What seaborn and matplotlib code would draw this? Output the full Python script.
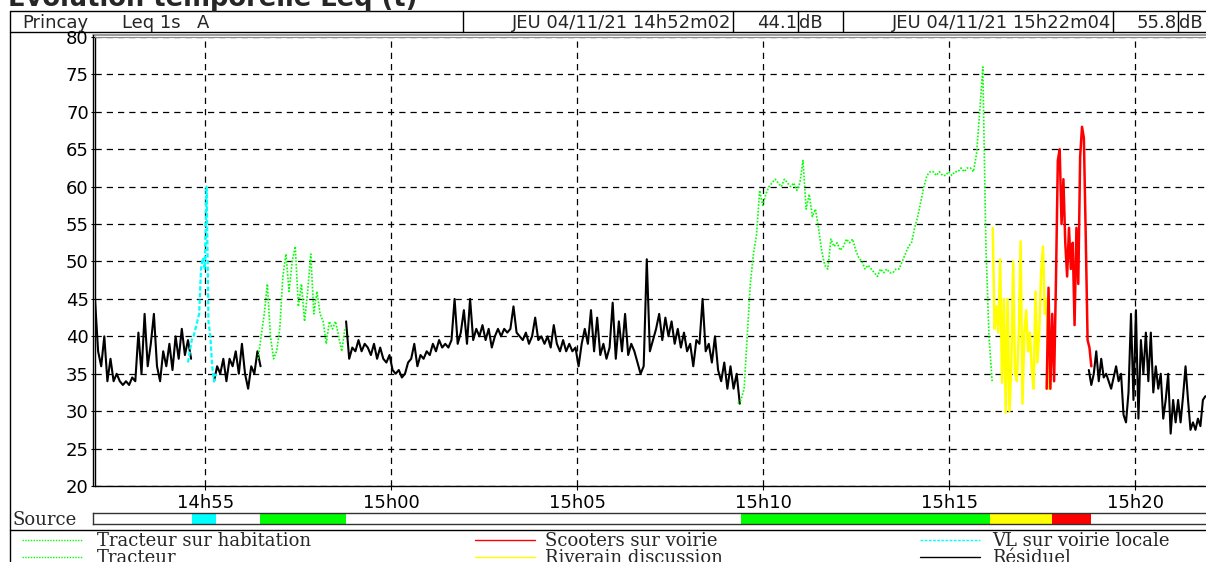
import numpy as np
import pandas as pd
import matplotlib.pyplot as plt
import seaborn as sns
from matplotlib.lines import Line2D

sns.set_style("white")
plt.rcParams["font.family"] = ["DejaVu Sans"]

# ---------------------------------------------------------
# Data: Leq 1s (A), Princay, JEU 04/11/21
# each run of one source: start time, step (s), dB values
# ---------------------------------------------------------
residuel_a = [45, 38, 36, 40, 34, 37, 34, 35, 34, 33.5, 34, 33.5, 34.5, 34, 40.5, 35,
              43, 36, 39, 43, 36, 34, 38, 36, 39, 35.5, 40, 37, 41, 37.5, 39.5, 37]
vl_voirie = [36.5, 38, 39.5, 40, 41, 42, 43, 49, 50.5, 49, 60, 42, 40, 36, 34, 35]
residuel_b = [34, 36, 35, 37, 34, 37, 36, 38, 35, 39, 35, 33, 36, 35, 38, 36]
tracteur = [37, 40, 43, 47, 40, 37, 38, 41, 48, 51, 46, 50, 52, 44, 47, 42, 46, 51,
            43, 46, 43, 42, 39, 42, 41, 42, 40, 38, 41]
residuel_c = [42, 37, 38.5, 38, 39.5, 38, 39, 38.5, 37.5, 39, 37, 38.5, 37, 36.5, 37.5,
              35.5, 35, 35.5, 34.5, 35, 36.5, 37, 39, 36, 37.5, 37, 38, 37.5, 39, 38,
              39.5, 38.5, 39, 38.5, 39.5, 45, 39, 40.5, 43.5, 39, 45, 39.5, 41, 40,
              41.5, 39.5, 41, 38.5, 40, 41, 40, 41, 40.5, 41, 44, 40.5, 40, 39.5, 40.5,
              39, 40, 42.5, 39.5, 40, 39, 40, 38.5, 41.5, 39, 38, 39.5, 38, 39, 38,
              38.5, 36, 39, 41, 39, 43.5, 38, 42.5, 37.5, 39, 37, 38.5, 44.5, 37, 42,
              38, 43, 37.5, 39, 38, 36.5, 35, 36, 50.3, 38, 39.5, 41, 43, 39.5, 42.5,
              40, 42, 39, 41, 38.5, 40.5, 38, 39, 36, 39.5, 39, 45, 38, 39, 36.5, 40,
              35.5, 34, 36.5, 33, 36, 33, 35, 31]
tracteur_hab = [31, 31.5, 33, 40, 47, 51, 53.5, 59.5, 57.5, 59, 60, 60.5, 61, 60.5, 60,
                61, 60.5, 60, 60.5, 59.5, 60.5, 63.5, 57, 59, 56, 57, 54.5, 51.5, 49.5,
                49, 53, 52, 52.5, 51.5, 52, 53, 52.5, 53, 51.5, 50.5, 50, 49, 49.5, 49,
                48.5, 48, 49, 48.5, 49, 48.5, 48.5, 49, 49, 50, 51, 52, 52.5, 54.5, 56,
                58, 60, 61.5, 62, 62, 61.5, 62, 61.5, 61.5, 62, 61.5, 62, 62, 62.5, 62,
                62.5, 62.5, 62, 64.5, 70, 76, 52, 40, 34]
riverain = [54.5, 41, 44, 40.5, 50.3, 33.8, 45, 29.8, 45, 30, 36, 50, 35, 34, 40.5,
            52.7, 31, 40.5, 43.5, 38, 40.5, 35.5, 33, 46, 36.5, 40.5, 48.5, 52, 43, 45, 33]
scooters = [33, 46.5, 33, 43, 34, 47.5, 63.5, 65, 55, 61, 52.5, 48, 54.5, 49, 52.5,
            41.5, 54.5, 47, 64, 68, 66.5, 53.5, 39.5, 38.5, 36]
residuel_d = [35.5, 33.5, 35, 38, 34, 37, 34.5, 35, 34, 33, 34.5, 36, 34, 35, 29.5,
              28.5, 32.5, 43, 31.5, 43.5, 29, 39.5, 35, 40.5, 34, 40.5, 32.5, 36, 33,
              35, 29, 31.5, 35, 27, 31.5, 28.5, 31.5, 28.5, 32, 36, 31.5, 27.5, 28.5,
              27.5, 29, 28, 31.5, 32]

segments = [
    ("Résiduel", "14:52:02", 5, residuel_a),
    ("VL sur voirie locale", "14:54:32", 3, vl_voirie),
    ("Résiduel", "14:55:14", 5, residuel_b),
    ("Tracteur", "14:56:25", 5, tracteur),
    ("Résiduel", "14:58:47", 5, residuel_c),
    ("Tracteur sur habitation", "15:09:19", 5, tracteur_hab),
    ("Riverain discussion", "15:16:10", 3, riverain),
    ("Scooters sur voirie", "15:17:37", 3, scooters),
    ("Résiduel", "15:18:45", 4, residuel_d),
]

# source coding bar under the chart
source_spans = [
    ("VL sur voirie locale", "14:54:38", "14:55:17"),
    ("Tracteur", "14:56:28", "14:58:47"),
    ("Tracteur sur habitation", "15:09:24", "15:16:06"),
    ("Riverain discussion", "15:16:06", "15:17:46"),
    ("Scooters sur voirie", "15:17:46", "15:18:49"),
]

xtick_times = ["14:55:00", "15:00:00", "15:05:00", "15:10:00", "15:15:00", "15:20:00"]
xtick_labels = ["14h55", "15h00", "15h05", "15h10", "15h15", "15h20"]
yticks = list(range(20, 81, 5))

site, index_name = "Princay", "Leq 1s"
start_stamp, start_leq = "JEU 04/11/21 14h52m02", "44.1"
end_stamp, end_leq = "JEU 04/11/21 15h22m04", "55.8"

# legend layout: rows of the legend block, column by column
legend_cols = [["Tracteur sur habitation", "Tracteur"],
               ["Scooters sur voirie", "Riverain discussion"],
               ["VL sur voirie locale", "Résiduel"]]

colors = {"Résiduel": "#000000", "VL sur voirie locale": "#00FFFF",
          "Tracteur": "#00FF00", "Tracteur sur habitation": "#00FF00",
          "Riverain discussion": "#FFFF00", "Scooters sur voirie": "#FF0000"}
dashes = {"Résiduel": "", "VL sur voirie locale": (2, 1),
          "Tracteur": (1, 1), "Tracteur sur habitation": (1, 1),
          "Riverain discussion": "", "Scooters sur voirie": ""}
widths = {"Résiduel": 1.5, "VL sur voirie locale": 1.6,
          "Tracteur": 1.2, "Tracteur sur habitation": 1.2,
          "Riverain discussion": 1.8, "Scooters sur voirie": 1.8}


def to_sec(hms):
    return pd.to_timedelta(hms).total_seconds()


rows = []
for k, (src, start, step, vals) in enumerate(segments):
    t0 = to_sec(start)
    for i, v in enumerate(vals):
        rows.append((k, src, t0 + i * step, v))
df = pd.DataFrame(rows, columns=["seg", "source", "t", "leq"])

# ---------------------------------------------------------
# Figure (pixel layout helpers)
# ---------------------------------------------------------
W, H = 1206, 562
fig = plt.figure(figsize=(W / 100, H / 100), dpi=100)
fig.patch.set_facecolor("white")


def fx(x):
    return x / W


def fy(y):
    return 1 - y / H


def hline(y, x0, x1, **kw):
    fig.add_artist(Line2D([fx(x0), fx(x1)], [fy(y), fy(y)], transform=fig.transFigure, **kw))


def vline(x, y0, y1, **kw):
    fig.add_artist(Line2D([fx(x), fx(x)], [fy(y0), fy(y1)], transform=fig.transFigure, **kw))


xmin, xmax = to_sec("14:52:02"), to_sec("15:21:54")

ax = fig.add_axes([fx(95), fy(486), fx(1206) - fx(95), fy(37) - fy(486)])
sns.lineplot(data=df, x="t", y="leq", hue="source", style="source", size="source",
             units="seg", estimator=None, sort=False, palette=colors, dashes=dashes,
             sizes=widths, legend=False, ax=ax)
ax.set_xlim(xmin, xmax)
ax.set_ylim(20, 80)
ax.set_xticks([to_sec(t) for t in xtick_times])
ax.set_xticklabels(xtick_labels)
ax.set_yticks(yticks)
ax.set_xlabel("")
ax.set_ylabel("")
ax.grid(True, color="black", linestyle=(0, (5, 4)), linewidth=0.9)
ax.tick_params(axis="both", which="both", bottom=True, left=True, direction="out",
               length=3, width=0.8, labelsize=13, colors="black")
ax.tick_params(axis="x", pad=2.5)
ax.tick_params(axis="y", pad=1.5)
ax.spines["right"].set_visible(False)
ax.spines["top"].set_color("#888888")
for s in ["left", "bottom"]:
    ax.spines[s].set_color("black")
    ax.spines[s].set_linewidth(1.0)

# source bar
bar = fig.add_axes([fx(93), fy(524), fx(1206) - fx(93), fy(513) - fy(524)])
bar.set_xlim(xmin - 2 * 1.613, xmax)
bar.set_ylim(0, 1)
for src, a, b in source_spans:
    bar.axvspan(to_sec(a), to_sec(b), color=colors[src], lw=0)
bar.set_xticks([])
bar.set_yticks([])
for s in bar.spines.values():
    s.set_color("#333333")
    s.set_linewidth(1.0)
bar.spines["right"].set_visible(False)

# frame lines
vline(9.5, 11, 562, color="black", lw=1.0)
hline(11, 9.5, 1206, color="black", lw=1.0)
hline(32, 9.5, 1206, color="black", lw=1.0)
for x in [463, 733, 798, 843, 1113, 1178]:
    vline(x, 11, 32, color="black", lw=1.0)
hline(35, 93, 1206, color="#888888", lw=1.2)
vline(92.5, 35, 486, color="black", lw=1.0)
hline(530, 9.5, 1206, color="black", lw=1.0)

# title (cut at the top edge like the capture)
fig.text(fx(8), fy(6), "Evolution temporelle Leq (t)", fontsize=18.5, fontweight="bold",
         ha="left", va="baseline")

# header row
hdr = dict(fontsize=13, va="baseline")
fig.text(fx(22), fy(28), site, ha="left", **hdr)
fig.text(fx(122), fy(28), index_name, ha="left", **hdr)
fig.text(fx(197), fy(28), "A", ha="left", **hdr)
fig.text(fx(731), fy(28), start_stamp, ha="right", **hdr)
fig.text(fx(797), fy(28), start_leq, ha="right", **hdr)
fig.text(fx(799), fy(28), "dB", ha="left", **hdr)
fig.text(fx(1111), fy(28), end_stamp, ha="right", **hdr)
fig.text(fx(1177), fy(28), end_leq, ha="right", **hdr)
fig.text(fx(1179), fy(28), "dB", ha="left", **hdr)

# source label + legend
serif = ["DejaVu Serif"]
fig.text(fx(13), fy(525), "Source", fontsize=13, family=serif, ha="left", va="baseline")
col_x = [(22, 82, 97), (475, 535, 545), (920, 980, 992)]
row_y = [(540, 546), (557, 563)]
for (x0, x1, xt), names in zip(col_x, legend_cols):
    for (yl, yt), name in zip(row_y, names):
        d = dashes[name]
        ls = "-" if d == "" else (0, d)
        fig.add_artist(Line2D([fx(x0), fx(x1)], [fy(yl), fy(yl)], transform=fig.transFigure,
                              color=colors[name], lw=1.0, linestyle=ls))
        fig.text(fx(xt), fy(yt), name, fontsize=13, family=serif, ha="left", va="baseline")

fig.savefig("out.png", dpi=100)
